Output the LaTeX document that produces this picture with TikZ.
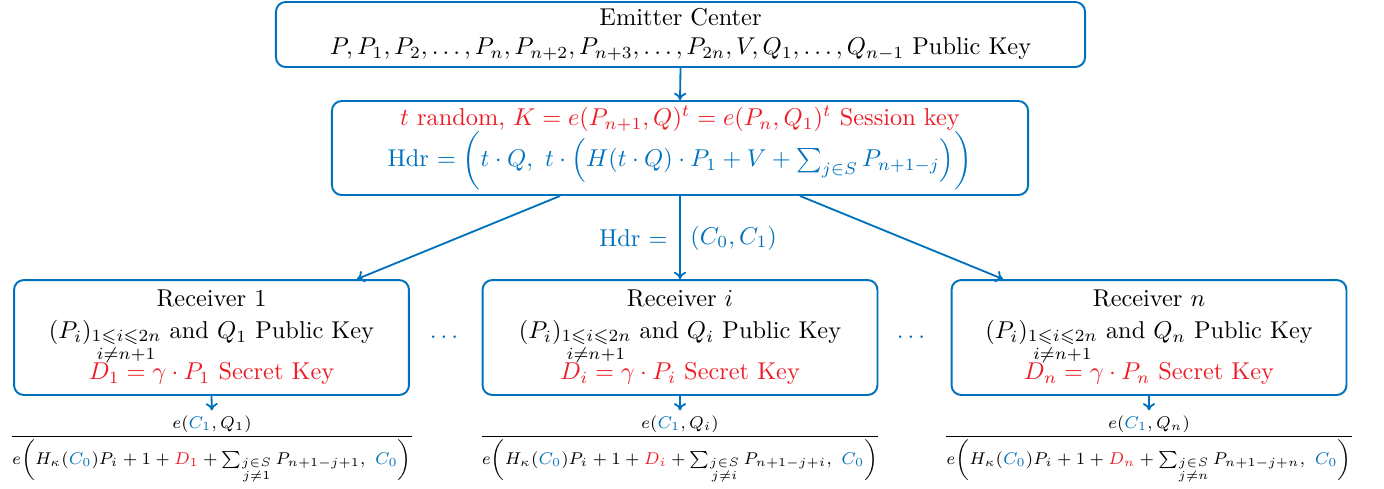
\documentclass[tikz,border=0pt]{standalone}
\usepackage{amsmath,amssymb}
\usepackage{graphicx}
\usetikzlibrary{arrows.meta,calc}
\definecolor{keyblue}{RGB}{0,114,189}
\definecolor{keyred}{RGB}{237,28,36}

% decryption quotient under each receiver
\newcommand{\recoverfrac}[1]{%
  {\scriptsize\scalebox{0.97}[1]{$\displaystyle\frac{e(\textcolor{keyblue}{C_1},Q_{#1})}%
  {e\mathopen{}\left(H_\kappa(\textcolor{keyblue}{C_0})P_i+1+\textcolor{keyred}{D_{#1}}
   +\sum_{\substack{j\in S\\ j\neq #1}}P_{n+1-j+#1},\ \textcolor{keyblue}{C_0}\right)}$}}}

% receiver contents
\newcommand{\receivertext}[1]{%
  Receiver $#1$\\[1pt]
  $(P_i)_{\substack{1\leqslant i\leqslant 2n\\ i\neq n+1}}$ and $Q_{#1}$ Public Key\\[-1pt]
  \textcolor{keyred}{$D_{#1}=\gamma\cdot P_{#1}$ Secret Key}}

\begin{document}
\begin{tikzpicture}[x=0.4107pt,y=-0.4107pt,
  box/.style={draw=keyblue, line width=0.8pt, rounded corners=4pt,
    align=center, inner sep=0pt},
  recbox/.style={box, minimum width=162.2pt, minimum height=47.2pt},
  flow/.style={draw=keyblue, line width=0.75pt, -{To[length=3pt,width=5pt]}},
  dots/.style={text=keyblue, inner sep=0pt},
  quot/.style={inner sep=0pt, anchor=base}]
\useasboundingbox (0,0) rectangle (1384,488);

\node[box, minimum width=332.3pt, minimum height=26.7pt] (emit) at (680.5,34.5)
  {Emitter Center\\
   $P,P_1,P_2,\dots,P_n,P_{n+2},P_{n+3},\dots,P_{2n},V,Q_1,\dots,Q_{n-1}$ Public Key};

\node[box, minimum width=285.9pt, minimum height=38.6pt] (sess) at (680,148)
  {\textcolor{keyred}{$t$ random, $K=e(P_{n+1},Q)^t=e(P_n,Q_1)^t$ Session key}\\[-1pt]
   \textcolor{keyblue}{Hdr $=\bigg(t\cdot Q,\ t\cdot\Big(H(t\cdot Q)\cdot P_1+V+\sum_{j\in S}P_{n+1-j}\Big)\bigg)$}};

\node[recbox] (rec1) at (211.5,337.5) {\receivertext{1}};
\node[recbox] (reci) at (680,337.5) {\receivertext{i}};
\node[recbox] (recn) at (1149,337.5) {\receivertext{n}};

\node[dots] (d1) at (446,337) {$\dots$};
\node[dots] (d2) at (913,337) {$\dots$};

\node[quot] (f1) at (212,441) {\recoverfrac{1}};
\node[quot] (fi) at (680,441) {\recoverfrac{i}};
\node[quot] (fn) at (1149,441) {\recoverfrac{n}};

\draw[flow] (emit.south) -- (sess.north);
\draw[flow] ($(sess.south)+(-120,0)$) -- ($(rec1.north)+(145.5,0)$);
\draw[flow] (sess.south) -- (reci.north);
\draw[flow] ($(sess.south)+(120,0)$) -- ($(recn.north)+(-146,0)$);

\node[anchor=east, text=keyblue, inner sep=0pt] (hdrl) at (668,238) {Hdr $=$};
\node[anchor=west, text=keyblue, inner sep=0pt] (hdrr) at (690,238) {$(C_0,C_1)$};

\draw[flow, shorten >=2pt] (rec1.south) -- (f1.north);
\draw[flow, shorten >=2pt] (reci.south) -- (fi.north);
\draw[flow, shorten >=2pt] (recn.south) -- (fn.north);
\end{tikzpicture}
\end{document}
